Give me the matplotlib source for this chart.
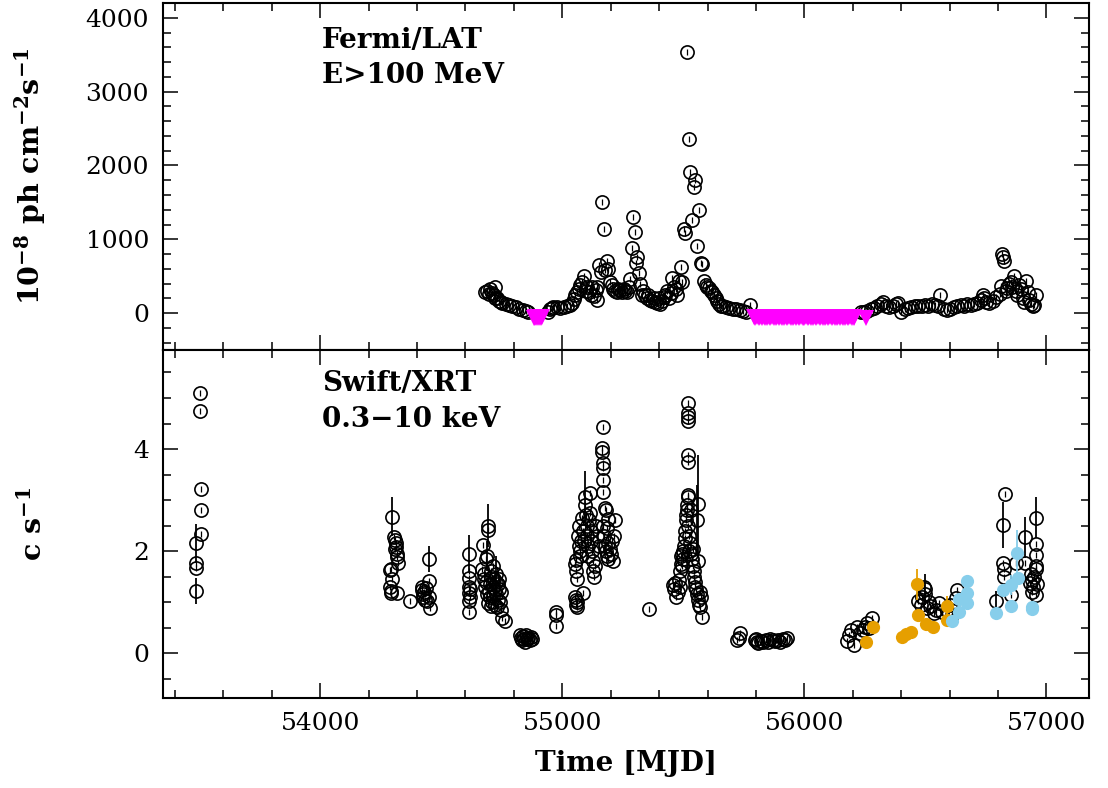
import matplotlib
matplotlib.use('Agg')
import matplotlib.pyplot as plt
from matplotlib.ticker import MultipleLocator

# ---- Fermi/LAT light curve (MJD, 1e-8 ph cm^-2 s^-1) ----
fermi_t = [54682, 54689, 54696, 54703, 54710, 54717, 54720, 54724, 54731, 54738,
           54745, 54752, 54766, 54780, 54794, 54808, 54822, 54836, 54850, 54857,
           54942, 54949, 54956, 54963, 54977, 54991, 55005, 55019, 55033, 55040,
           55047, 55054, 55061, 55068, 55075, 55082, 55089,
           55096, 55103, 55110, 55117, 55124, 55131, 55138, 55142, 55145, 55152,
           55159, 55166, 55171, 55176, 55183, 55190, 55197, 55204, 55211, 55218,
           55225, 55232, 55239, 55246, 55253, 55260, 55267, 55274, 55281, 55287,
           55291, 55299, 55305, 55310, 55317, 55322, 55328, 55335, 55342, 55349,
           55356, 55363, 55370, 55377, 55384, 55391, 55398, 55405, 55412, 55419,
           55426, 55433, 55440, 55447, 55454, 55461, 55468, 55475, 55482, 55490,
           55496, 55502, 55507, 55515, 55522, 55529, 55536, 55543, 55550, 55557,
           55564, 55571, 55578, 55585, 55592, 55599, 55606, 55613, 55620, 55627,
           55634, 55641, 55648, 55655, 55662, 55676, 55690, 55704, 55718, 55732,
           55746, 55760, 55777,
           56232, 56246, 56260, 56274, 56288, 56302, 56316, 56323, 56337, 56351,
           56365, 56379, 56386, 56400, 56414, 56428, 56442, 56456, 56470, 56484,
           56498, 56512, 56526, 56540, 56554, 56561, 56575, 56589, 56603, 56617,
           56631, 56645, 56659, 56673, 56687, 56701, 56715, 56729, 56736, 56743,
           56750, 56764, 56778, 56792, 56806, 56813, 56817, 56820, 56824, 56831,
           56838, 56845, 56852, 56859, 56866, 56873, 56880, 56887, 56894, 56901,
           56908, 56915, 56922, 56929, 56936, 56943, 56950, 56957]
fermi_f = [285, 300, 260, 330, 270, 240, 360, 200, 210, 170,
           150, 140, 130, 110, 100, 80, 60, 40, 25, 10,
           20, 50, 70, 80, 80, 75, 80, 95, 110, 140,
           190, 240, 290, 330, 380, 420, 500,
           300, 360, 280, 240, 360, 230, 310, 176, 350, 650,
           560, 1510, 1140, 580, 700, 600, 420, 380, 330, 300,
           290, 330, 310, 290, 330, 300, 280, 350, 460, 880,
           1300, 1100, 680, 760, 540, 390, 250, 300, 240, 200,
           250, 180, 170, 210, 150, 140, 200, 130, 160, 220,
           250, 300, 210, 270, 480, 360, 320, 240, 430, 630,
           420, 1140, 1090, 3540, 2360, 1910, 1260, 1710, 1800, 910,
           1400, 680, 660, 430, 380, 350, 340, 300, 280, 250,
           200, 160, 120, 100, 90, 80, 70, 60, 50, 40,
           30, 20, 110,
           10, 20, 30, 50, 70, 90, 120, 150, 100, 80,
           90, 130, 140, 20, 60, 70, 80, 90, 100, 90,
           110, 100, 120, 110, 100, 240, 60, 40, 50, 80,
           100, 110, 90, 120, 110, 120, 140, 180, 240, 200,
           150, 140, 160, 220, 260, 370, 800, 760, 700, 300,
           340, 400, 420, 350, 500, 300, 250, 380, 320, 200,
           150, 430, 280, 180, 120, 100, 110, 240]

# upper limits (magenta triangles)
ul_t = [54882, 54886, 54889, 54893, 54896, 54900, 54903, 54907, 54910, 54915,
        55790, 55797, 55804, 55811, 55818, 55825, 55832, 55839, 55846, 55853,
        55860, 55867, 55874, 55881, 55888, 55895, 55902, 55909, 55916, 55923,
        55930, 55937, 55944, 55951, 55958, 55965, 55972, 55979, 55986, 55993,
        56000, 56007, 56014, 56021, 56028, 56035, 56042, 56049, 56056, 56063,
        56070, 56077, 56084, 56091, 56098, 56105, 56112, 56119, 56126, 56133,
        56140, 56147, 56154, 56161, 56168, 56175, 56182, 56189, 56196, 56203,
        56206, 56256]
ul_f = [-60, -55, -60, -55, -60, -55, -60, -55, -60, -55,
        -55, -60, -55, -60, -55, -60, -55, -60, -60, -55,
        -60, -55, -60, -60, -55, -60, -55, -60, -60, -55,
        -60, -55, -60, -60, -55, -60, -55, -60, -55, -60,
        -60, -55, -60, -55, -60, -60, -55, -60, -55, -60,
        -55, -60, -60, -55, -60, -55, -60, -55, -60, -60,
        -55, -60, -55, -60, -60, -55, -60, -55, -60, -55,
        -60, -60]

# ---- Swift/XRT light curve (MJD, counts/s) ----
xrt_t = [53485, 53487, 53502, 53502, 53508, 53508, 53508,
         54305, 54309, 54311, 54313, 54309, 54316, 54318, 54320, 54289, 54292,
         54298, 54290, 54291, 54294, 54316, 54371,
         54419, 54421, 54423, 54425, 54428, 54432, 54436, 54440, 54451, 54451, 54453,
         54614, 54614, 54615, 54614, 54616, 54614, 54618, 54618,
         54668, 54672, 54675, 54678, 54680, 54684, 54686, 54691, 54697, 54700,
         54702, 54705, 54708, 54710, 54712, 54715, 54718, 54720, 54722, 54725,
         54728, 54730, 54733, 54736, 54738, 54740, 54742, 54745, 54748, 54752,
         54762, 54690, 54695, 54706, 54714,
         54825, 54830, 54835, 54838, 54842, 54846, 54850, 54855, 54860, 54865,
         54870, 54874,
         54973, 54975, 54973,
         55052, 55055, 55058, 55060, 55062, 55085,
         55052, 55055, 55058, 55060, 55065, 55068, 55070, 55072, 55075, 55078,
         55082, 55085, 55088, 55095, 55098, 55100, 55103, 55106, 55108, 55110,
         55113, 55115, 55118, 55120, 55123, 55125, 55128, 55130, 55135, 55140,
         55145, 55150,
         55167, 55165, 55165, 55167, 55167, 55168, 55170, 55175, 55180, 55190,
         55185, 55170, 55172, 55175, 55180, 55183, 55187, 55190, 55195, 55200,
         55205, 55210, 55213, 55216,
         55357,
         55456, 55460, 55465, 55470, 55478, 55483, 55486,
         55488, 55490, 55492, 55494, 55496, 55498, 55500, 55502, 55505, 55508,
         55510, 55512, 55514, 55516, 55518, 55519, 55520, 55518, 55518, 55519,
         55519, 55518, 55518, 55522, 55525, 55528, 55530, 55532, 55535, 55538,
         55540, 55543, 55545, 55548, 55550, 55553, 55556, 55560, 55562, 55565,
         55570, 55575, 55572, 55568,
         55723, 55728, 55735,
         55795, 55800, 55805, 55810, 55820, 55830, 55840, 55850, 55860, 55870,
         55880, 55890, 55900, 55910, 55920, 55930,
         56177, 56206, 56194, 56218, 56243, 56260, 56280, 56268, 56230, 56250, 56185,
         56495, 56497, 56470, 56507, 56536, 56557, 56590, 56610, 56631, 56627,
         56480, 56520, 56545, 56570, 56600, 56515, 56485,
         56829, 56821, 56823, 56823, 56874, 56854, 56911, 56955, 56955, 56957,
         56955, 56940, 56945, 56955, 56930, 56935, 56948, 56960, 56940]
xrt_r = [1.76, 1.67, 5.10, 4.75, 3.21, 2.80, 2.33,
         2.28, 2.22, 2.15, 2.08, 2.05, 1.95, 1.89, 1.77, 1.63, 1.64,
         1.46, 1.30, 1.22, 1.17, 1.17, 1.02,
         1.30, 1.23, 1.15, 1.10, 1.20, 1.05, 1.28, 1.02, 1.42, 1.09, 0.88,
         1.61, 1.48, 1.30, 1.18, 1.02, 0.81, 1.25, 1.10,
         1.65, 2.12, 1.55, 1.45, 1.30, 1.85, 1.40, 2.42, 1.20, 1.35,
         1.10, 1.60, 1.50, 1.00, 1.30, 1.70, 1.45, 0.95, 1.25, 1.55,
         1.15, 0.90, 1.35, 1.05, 1.45, 1.25, 1.00, 0.85, 1.20, 0.68,
         0.63, 1.15, 0.98, 0.92, 1.12,
         0.35, 0.30, 0.25, 0.33, 0.28, 0.22, 0.36, 0.27, 0.30, 0.25,
         0.32, 0.28,
         0.80, 0.75, 0.54,
         1.10, 0.95, 1.05, 0.90, 1.00, 1.18,
         1.75, 1.82, 1.60, 1.45, 2.30, 2.10, 2.50, 2.00, 1.90, 2.20,
         2.65, 2.40, 2.20, 2.90, 2.70, 2.50, 2.30, 2.10, 1.90, 2.60,
         3.13, 2.75, 2.40, 2.20, 2.00, 1.80, 1.60, 1.50, 1.70, 2.50,
         2.30, 2.10,
         4.43, 4.02, 3.94, 3.73, 3.62, 3.39, 3.16, 2.84, 2.80, 2.62,
         2.45, 2.50, 2.30, 2.10, 2.00, 1.90, 1.85, 2.15, 2.05, 1.95,
         2.20, 1.80, 2.30, 2.60,
         0.87,
         1.33, 1.25, 1.38, 1.10, 1.20, 1.43, 1.30,
         1.60, 1.75, 1.90, 1.95, 1.70, 1.85, 2.00, 2.10, 2.25, 2.40,
         2.60, 2.70, 2.80, 2.90, 3.05, 3.10, 2.50, 4.91, 4.70, 4.62,
         4.55, 3.88, 3.75, 2.30, 2.00, 2.15, 2.80, 1.95, 1.85, 2.05,
         1.70, 1.60, 1.50, 1.40, 1.30, 1.25, 1.15, 1.80, 1.05, 0.95,
         0.90, 0.71, 1.10, 1.20,
         0.25, 0.30, 0.39,
         0.25, 0.28, 0.22, 0.20, 0.24, 0.21, 0.26, 0.22, 0.28, 0.25,
         0.23, 0.26, 0.22, 0.27, 0.25, 0.30,
         0.24, 0.16, 0.45, 0.51, 0.45, 0.59, 0.69, 0.49, 0.40, 0.52, 0.35,
         1.29, 1.16, 1.03, 0.88, 0.78, 0.98, 0.85, 0.75, 1.24, 1.08,
         0.95, 0.92, 0.85, 0.80, 0.95, 1.00, 1.10,
         3.12, 1.76, 1.65, 1.50, 1.76, 1.14, 1.76, 2.14, 1.92, 1.71,
         1.65, 1.43, 1.29, 1.14, 1.37, 1.55, 1.50, 1.35, 1.20]

# XRT points with large error bars
xrt_eb_t = [53485, 53487, 54298, 54451, 54614, 54693, 54726, 54688, 55093,
            55559, 55555, 56498, 56792, 56821, 56911, 56955]
xrt_eb_r = [2.15, 1.22, 2.67, 1.84, 1.94, 2.50, 1.40, 1.90, 3.06,
            2.92, 2.60, 1.25, 1.02, 2.51, 2.27, 2.65]
xrt_eb_e = [0.38, 0.25, 0.38, 0.25, 0.37, 0.42, 0.50, 0.30, 0.50,
            0.96, 0.70, 0.30, 0.20, 0.45, 0.40, 0.40]

# orange and blue subsets
org_t = [56256, 56285, 56405, 56441, 56420, 56470, 56503, 56532, 56588, 56466, 56590]
org_r = [0.22, 0.51, 0.31, 0.41, 0.38, 0.75, 0.57, 0.51, 0.65, 1.35, 0.92]
org_e = [0.0, 0.0, 0.0, 0.0, 0.0, 0.0, 0.0, 0.0, 0.0, 0.30, 0.20]

blu_t = [56672, 56672, 56673, 56639, 56638, 56610, 56792, 56821, 56854, 56854,
         56882, 56940, 56942, 56878]
blu_r = [1.41, 1.18, 0.98, 1.06, 0.80, 0.63, 0.78, 1.24, 1.33, 0.92,
         1.47, 0.90, 0.86, 1.96]
blu_e = [0.0, 0.0, 0.0, 0.0, 0.0, 0.0, 0.0, 0.0, 0.20, 0.0,
         0.0, 0.0, 0.0, 0.45]

plt.rcParams['font.family'] = ['DejaVu Serif']
plt.rcParams['mathtext.fontset'] = 'dejavuserif'
ORANGE = '#E69F00'
BLUE = '#87CEEB'


def style_axis(ax):
    for s in ax.spines.values():
        s.set_linewidth(1.5)
    ax.xaxis.set_major_locator(MultipleLocator(1000))
    ax.xaxis.set_minor_locator(MultipleLocator(200))
    ax.tick_params(which='both', direction='in', top=True, right=True,
                   width=1.1, labelsize=18, pad=10)
    ax.tick_params(which='major', length=11)
    ax.tick_params(which='minor', length=5.5)


def main():
    fig = plt.figure(figsize=(11.08, 7.88), dpi=100)
    ax1 = fig.add_axes([0.147, 0.5558, 0.8357, 0.4404])
    ax2 = fig.add_axes([0.147, 0.1142, 0.8357, 0.4416], sharex=ax1)

    # top: Fermi
    ax1.plot(fermi_t, fermi_f, 'o', mfc='none', mec='k', ms=9.5, mew=1.2, zorder=3)
    ax1.plot(fermi_t, fermi_f, '|', color='k', ms=5, mew=0.9, zorder=3)
    ax1.plot(ul_t, ul_f, 'v', color='#FF00FF', ms=11, mew=0, zorder=4)
    ax1.set_ylim(-500, 4200)
    ax1.yaxis.set_major_locator(MultipleLocator(1000))
    ax1.yaxis.set_minor_locator(MultipleLocator(200))
    style_axis(ax1)
    ax1.tick_params(labelbottom=False)
    ax1.set_ylabel(r'10$^{\mathbf{-8}}$ ph cm$^{\mathbf{-2}}$s$^{\mathbf{-1}}$',
                   fontsize=20.5, fontweight='bold')
    ax1.yaxis.set_label_coords(-0.124, 0.5)
    ax1.text(0.172, 0.893, 'Fermi/LAT', transform=ax1.transAxes,
             fontsize=20, fontweight='bold', va='center', ha='left')
    ax1.text(0.172, 0.79, 'E>100 MeV', transform=ax1.transAxes,
             fontsize=20, fontweight='bold', va='center', ha='left')

    # bottom: Swift
    ax2.errorbar(xrt_eb_t, xrt_eb_r, yerr=xrt_eb_e, fmt='o', mfc='none', mec='k',
                 ecolor='k', elinewidth=1.3, capsize=0, ms=9.5, mew=1.2, zorder=3)
    ax2.plot(xrt_t, xrt_r, 'o', mfc='none', mec='k', ms=9.5, mew=1.2, zorder=3)
    ax2.plot(xrt_t, xrt_r, '|', color='k', ms=5, mew=0.9, zorder=3)
    ax2.errorbar(org_t, org_r, yerr=org_e, fmt='o', color=ORANGE, ms=9.5, mew=0,
                 elinewidth=1.3, capsize=0, zorder=4)
    ax2.errorbar(blu_t, blu_r, yerr=blu_e, fmt='o', color=BLUE, ms=9.5, mew=0,
                 elinewidth=1.3, capsize=0, zorder=4)
    ax2.set_ylim(-0.88, 5.94)
    ax2.yaxis.set_major_locator(MultipleLocator(2))
    ax2.yaxis.set_minor_locator(MultipleLocator(0.5))
    style_axis(ax2)
    ax2.set_xlim(53350, 57175)
    ax2.set_ylabel(r'c s$^{\mathbf{-1}}$', fontsize=20.5, fontweight='bold')
    ax2.yaxis.set_label_coords(-0.124, 0.5)
    ax2.set_xlabel('Time [MJD]', fontsize=20, fontweight='bold')
    ax2.xaxis.set_label_coords(0.5, -0.15)
    ax2.text(0.172, 0.905, 'Swift/XRT', transform=ax2.transAxes,
             fontsize=20, fontweight='bold', va='center', ha='left')
    ax2.text(0.172, 0.799, '0.3−10 keV', transform=ax2.transAxes,
             fontsize=20, fontweight='bold', va='center', ha='left')

    fig.savefig('out.png', dpi=100)


if __name__ == '__main__':
    main()
